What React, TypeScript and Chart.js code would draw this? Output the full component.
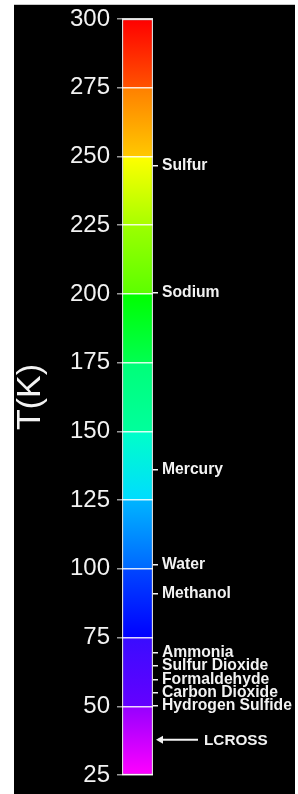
import React, { useEffect, useRef } from "react";
import { Chart, registerables } from "chart.js";

Chart.register(...registerables);

const tempMin = 25;
const tempMax = 300;
const tempStep = 25;
const barRange = [25, 300];

const substanceNames = [
  "Sulfur",
  "Sodium",
  "Mercury",
  "Water",
  "Methanol",
  "Ammonia",
  "Sulfur Dioxide",
  "Formaldehyde",
  "Carbon Dioxide",
  "Hydrogen Sulfide",
];
const substanceTemps = [246.6, 200.5, 136, 101.5, 91, 69.4, 64.6, 59.8, 55.1, 50.2];

const lcrossLabel = "LCROSS";
const lcrossTemp = 37.8;

// colour bands: lower bound of each 25 K band, colour at its top and at its bottom
const bandLows = [275, 250, 225, 200, 175, 150, 125, 100, 75, 50, 25];
const bandTopColors = ["#ff0000", "#ff8000", "#ffff00", "#9cff00", "#00ff00", "#00ff78", "#00ffc8", "#00b4ff", "#0046ff", "#3a0cff", "#9600ff"];
const bandBottomColors = ["#ff5200", "#ffc800", "#a8ff00", "#5cff00", "#00ff50", "#00ff9c", "#00dcff", "#0068ff", "#0000ff", "#6400ff", "#ff00ff"];

const FONT = "'Liberation Sans', Arial, Helvetica, sans-serif";

export default function App() {
  const ref = useRef<HTMLCanvasElement | null>(null);

  useEffect(() => {
    if (!ref.current) return;

    const lcrossPlugin = {
      id: "lcross",
      afterDraw(chart: any) {
        const { ctx, chartArea, scales } = chart;
        const y = scales.y.getPixelForValue(lcrossTemp);
        const x0 = chartArea.right + 3;
        const x1 = chartArea.right + 45;
        ctx.save();
        ctx.strokeStyle = "#f2f2f2";
        ctx.fillStyle = "#f2f2f2";
        ctx.lineWidth = 2;
        ctx.beginPath();
        ctx.moveTo(x0 + 2, y);
        ctx.lineTo(x1, y);
        ctx.stroke();
        ctx.beginPath();
        ctx.moveTo(x0, y);
        ctx.lineTo(x0 + 7, y - 4);
        ctx.lineTo(x0 + 7, y + 4);
        ctx.closePath();
        ctx.fill();
        ctx.font = `bold 15.3px ${FONT}`;
        ctx.textBaseline = "middle";
        ctx.textAlign = "left";
        ctx.fillText(lcrossLabel, x1 + 6, y + 1);
        ctx.restore();
      },
    };

    const chart = new Chart(ref.current, {
      type: "bar",
      data: {
        labels: ["T"],
        datasets: [
          {
            data: [barRange as any],
            yAxisID: "y",
            barPercentage: 1,
            categoryPercentage: 1,
            borderColor: "#d8d8d8",
            borderWidth: 1.5,
            borderSkipped: false,
            backgroundColor: (c: any) => {
              const ch = c.chart;
              const sy = ch.scales?.y;
              if (!sy || !ch.chartArea) return "#f00";
              const top = sy.getPixelForValue(tempMax);
              const bottom = sy.getPixelForValue(tempMin);
              const g = ch.ctx.createLinearGradient(0, top, 0, bottom);
              const span = bottom - top;
              bandLows.forEach((lo, i) => {
                const hi = lo + tempStep;
                const pHi = (sy.getPixelForValue(hi) - top) / span;
                const pLo = (sy.getPixelForValue(lo) - top) / span;
                g.addColorStop(Math.min(1, Math.max(0, pHi + 0.0005)), bandTopColors[i]);
                g.addColorStop(Math.min(1, Math.max(0, pLo - 0.0005)), bandBottomColors[i]);
              });
              return g;
            },
          },
        ],
      },
      options: {
        animation: false,
        responsive: false,
        maintainAspectRatio: false,
        layout: { padding: { top: 15, bottom: 19, left: 0, right: 0 } },
        plugins: { legend: { display: false }, tooltip: { enabled: false }, title: { display: false } },
        scales: {
          x: { display: false },
          y: {
            type: "linear",
            position: "left",
            min: tempMin,
            max: tempMax,
            afterFit: (s: any) => {
              s.width = 108;
              s.paddingTop = 0;
              s.paddingBottom = 0;
            },
            ticks: {
              stepSize: tempStep,
              color: "#f2f2f2",
              padding: 7,
              font: { family: FONT, size: 24 },
            },
            grid: {
              z: 1,
              color: "rgba(255,255,255,0.85)",
              lineWidth: 1.5,
              tickColor: "#9a9a9a",
              tickLength: 5,
            },
            border: { display: false },
            title: {
              display: true,
              text: "T(K)",
              color: "#f2f2f2",
              font: { family: FONT, size: 34, lineHeight: 1 },
              padding: { top: 0, bottom: 0 },
            },
          },
          y2: {
            type: "linear",
            position: "right",
            min: tempMin,
            max: tempMax,
            afterFit: (s: any) => {
              s.width = 142;
              s.paddingTop = 0;
              s.paddingBottom = 0;
            },
            afterBuildTicks: (s: any) => {
              s.ticks = substanceTemps.map((v) => ({ value: v }));
            },
            ticks: {
              autoSkip: false,
              color: "#f2f2f2",
              padding: 4,
              font: { family: FONT, size: 15.7, weight: "bold" },
              callback: (_v: any, i: number) => substanceNames[i],
            },
            grid: {
              drawOnChartArea: false,
              tickColor: "#f2f2f2",
              tickLength: 5,
              lineWidth: 1.5,
            },
            border: { display: false },
          },
        },
      },
      plugins: [lcrossPlugin],
    });

    return () => chart.destroy();
  }, []);

  return (
    <div style={{ position: "absolute", left: 0, top: 0, width: 298, height: 794, background: "#fff", overflow: "hidden" }}>
      <div style={{ position: "absolute", left: 14, top: 4, width: 281, height: 790, background: "#000", borderTop: "1px solid #c8c8c8", boxSizing: "border-box" }}>
        <canvas ref={ref} width={281} height={790} style={{ position: "absolute", left: 0, top: -1, width: 281, height: 790 }} />
      </div>
    </div>
  );
}
